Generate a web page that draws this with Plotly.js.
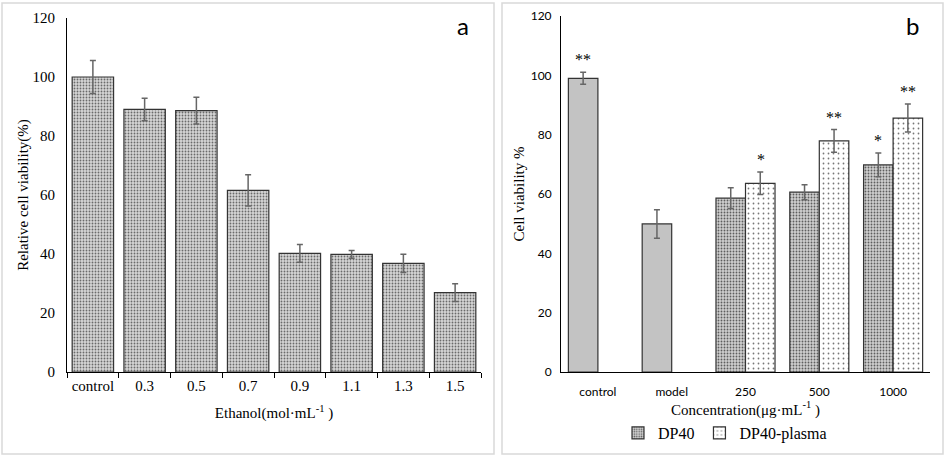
<!DOCTYPE html>
<html>
<head>
<meta charset="utf-8">
<script src="https://cdn.plot.ly/plotly-3.0.1.min.js"></script>
<style>html,body{margin:0;padding:0;background:#fff;}#chart{width:945px;height:456px;}</style>
</head>
<body>
<div id="chart"></div>
<script>
// Panel a data
const aCategories = ['control', '0.3', '0.5', '0.7', '0.9', '1.1', '1.3', '1.5'];
const aValues = [100, 89, 88.6, 61.6, 40.2, 39.9, 36.8, 26.9];
const aErrors = [5.6, 3.8, 4.5, 5.3, 3.0, 1.3, 3.1, 3.0];

// Panel b data
const bCategories = ['control', 'model', '250', '500', '1000'];
const bBaseCats = ['control', 'model'];
const bBaseValues = [99, 49.9];
const bBaseErrors = [2.0, 4.8];
const bDoseCats = ['250', '500', '1000'];
const dp40Values = [58.6, 60.6, 69.8];
const dp40Errors = [3.5, 2.5, 4.0];
const plasmaValues = [63.6, 77.9, 85.6];
const plasmaErrors = [3.8, 3.8, 4.7];
const baseSig = ['**', ''];
const dp40Sig = ['', '', '*'];
const plasmaSig = ['*', '**', '**'];

const serif = 'Liberation Serif';
const sans = 'Lato';
const errStyle = {type: 'data', visible: true, color: '#666', thickness: 1.5, width: 3};
const outline = {color: '#333', width: 1.2};

const traces = [
  {
    type: 'bar', x: aCategories, y: aValues, xaxis: 'x', yaxis: 'y',
    error_y: Object.assign({array: aErrors}, errStyle),
    marker: {color: '#cccccc', line: outline,
      pattern: {shape: '.', size: 3, solidity: 0.3, fgcolor: '#6a6a6a', bgcolor: '#d6d6d6', fillmode: 'replace'}},
    showlegend: false
  },
  {
    type: 'bar', x: bBaseCats, y: bBaseValues, xaxis: 'x2', yaxis: 'y2', offsetgroup: 'dp',
    error_y: Object.assign({array: bBaseErrors}, errStyle),
    marker: {color: '#c3c3c3', line: outline},
    showlegend: false, name: 'base'
  },
  {
    type: 'bar', x: bDoseCats, y: dp40Values, xaxis: 'x2', yaxis: 'y2', offsetgroup: 'dp',
    error_y: Object.assign({array: dp40Errors}, errStyle),
    marker: {color: '#c8c8c8', line: outline,
      pattern: {shape: '.', size: 3, solidity: 0.3, fgcolor: '#5e5e5e', bgcolor: '#cfcfcf', fillmode: 'replace'}},
    name: 'DP40'
  },
  {
    type: 'bar', x: bDoseCats, y: plasmaValues, xaxis: 'x2', yaxis: 'y2', offsetgroup: 'pl',
    error_y: Object.assign({array: plasmaErrors}, errStyle),
    marker: {color: '#ffffff', line: outline,
      pattern: {shape: '.', size: 5, solidity: 0.1, fgcolor: '#777777', bgcolor: '#ffffff', fillmode: 'replace'}},
    name: 'DP40-plasma'
  }
];

const annotations = [];
function addStars(cats, vals, errs, sig, shift) {
  cats.forEach((c, i) => {
    if (sig[i]) {
      annotations.push({xref: 'x2', yref: 'y2', x: bCategories.indexOf(c), y: vals[i] + errs[i], xshift: shift, yshift: 2,
        xanchor: 'center', yanchor: 'bottom', showarrow: false, text: sig[i],
        font: {family: serif, size: 16, color: '#000000'}});
    }
  });
}
addStars(bBaseCats, bBaseValues, bBaseErrors, baseSig, -15);
addStars(bDoseCats, dp40Values, dp40Errors, dp40Sig, -15);
addStars(bDoseCats, plasmaValues, plasmaErrors, plasmaSig, 15);

annotations.push({xref: 'paper', yref: 'paper', x: 463 / 945, y: 1 - 26 / 456, xanchor: 'center', yanchor: 'middle',
  text: 'a', showarrow: false, font: {family: sans, size: 24, color: '#000000'}});
annotations.push({xref: 'paper', yref: 'paper', x: 912 / 945, y: 1 - 26 / 456, xanchor: 'center', yanchor: 'middle',
  text: 'b', showarrow: false, font: {family: sans, size: 24, color: '#000000'}});

const shapes = [
  {type: 'rect', xref: 'paper', yref: 'paper', x0: 2 / 945, x1: 494 / 945, y0: 1 - 454 / 456, y1: 1 - 3 / 456,
    line: {color: '#d9d9d9', width: 1.5}},
  {type: 'rect', xref: 'paper', yref: 'paper', x0: 502 / 945, x1: 943 / 945, y0: 1 - 454 / 456, y1: 1 - 3 / 456,
    line: {color: '#d9d9d9', width: 1.5}}
];

const layout = {
  width: 945, height: 456,
  margin: {l: 0, r: 0, t: 0, b: 0},
  paper_bgcolor: '#fff', plot_bgcolor: '#fff',
  barmode: 'group',
  bargap: 0.2,
  xaxis: {domain: [67 / 945, 481 / 945], anchor: 'y', type: 'category',
    showline: true, linecolor: '#000', linewidth: 1, showgrid: false, zeroline: false,
    ticks: 'outside', tickson: 'boundaries', ticklen: 5, tickcolor: '#000',
    tickfont: {family: serif, size: 15, color: '#000'},
    title: {text: 'Ethanol(mol·mL<sup>-1</sup> )', font: {family: serif, size: 15, color: '#000'}, standoff: 14}},
  yaxis: {domain: [1 - 372 / 456, 1 - 18 / 456], anchor: 'x', range: [0, 120], dtick: 20,
    showline: true, linecolor: '#000', linewidth: 1, showgrid: false, zeroline: false,
    ticks: 'outside', ticklen: 8, tickcolor: 'rgba(0,0,0,0)',
    tickfont: {family: serif, size: 15, color: '#000'},
    title: {text: 'Relative cell viability(%)', font: {family: serif, size: 15, color: '#000'}, standoff: 0}},
  xaxis2: {domain: [561 / 945, 930 / 945], anchor: 'y2', type: 'category',
    categoryorder: 'array', categoryarray: bCategories, range: [-0.5, bCategories.length - 0.5],
    showline: true, linecolor: '#000', linewidth: 1, showgrid: false, zeroline: false,
    ticks: 'outside', ticklen: 9, tickcolor: 'rgba(0,0,0,0)',
    tickfont: {family: sans, size: 12, color: '#000'},
    title: {text: 'Concentration(μg·mL<sup>-1</sup> )', font: {family: serif, size: 15, color: '#000'}, standoff: 4}},
  yaxis2: {domain: [1 - 372 / 456, 1 - 16 / 456], anchor: 'x2', range: [0, 120], dtick: 20,
    showline: true, linecolor: '#000', linewidth: 1, showgrid: false, zeroline: false,
    ticks: 'outside', ticklen: 6, tickcolor: 'rgba(0,0,0,0)',
    tickfont: {family: sans, size: 12, color: '#000'},
    title: {text: 'Cell viability %', font: {family: serif, size: 15, color: '#000'}, standoff: 2}},
  showlegend: true,
  legend: {orientation: 'h', x: 725 / 945, xanchor: 'center', y: 1 - 433 / 456, yanchor: 'middle',
    font: {family: serif, size: 16, color: '#000'}, itemwidth: 30, bgcolor: 'rgba(0,0,0,0)'},
  annotations: annotations,
  shapes: shapes
};

Plotly.newPlot('chart', traces, layout, {displayModeBar: false, staticPlot: true});
</script>
</body>
</html>
